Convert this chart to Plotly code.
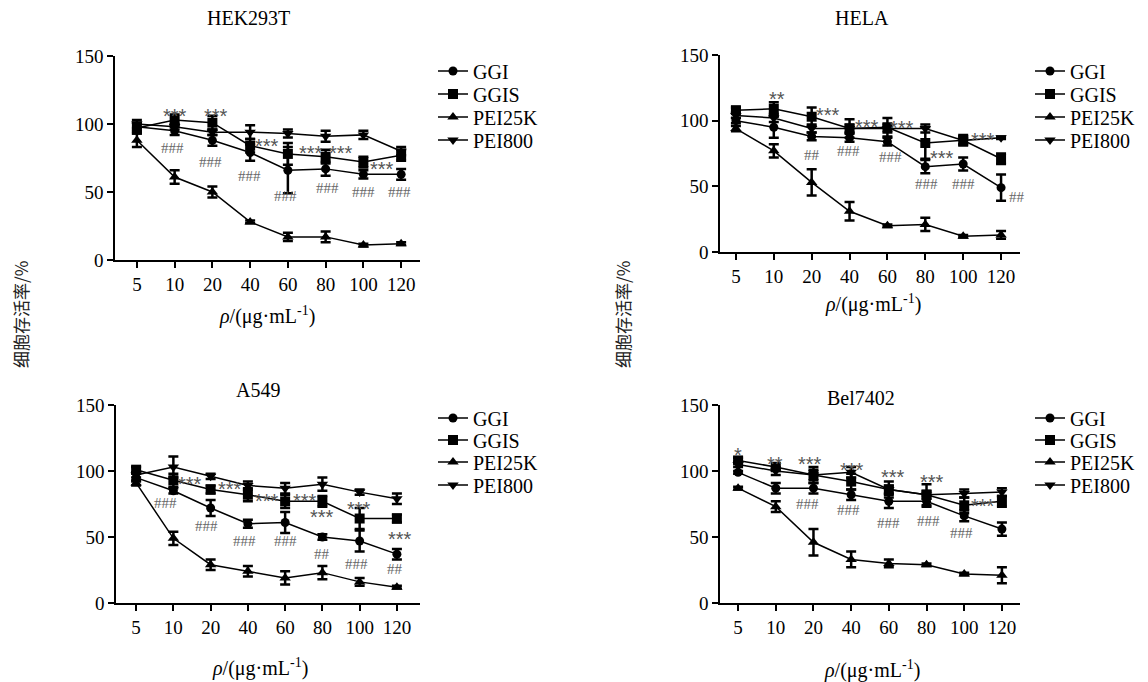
import plotly.graph_objects as go

doses = ["5", "10", "20", "40", "60", "80", "100", "120"]
series_names = ["GGI", "GGIS", "PEI25K", "PEI800"]
panel_titles = ["HEK293T", "HELA", "A549", "Bel7402"]

# ---- HEK293T ----
hek_ggi = [98, 95, 88, 79, 66, 67, 63, 63]
hek_ggis = [97, 103, 101, 84, 78, 76, 72, 77]
hek_pei25k = [88, 61, 50, 28, 17, 17, 11, 12]
hek_pei800 = [100, 98, 94, 94, 93, 91, 92, 80]
hek_ggi_err = [3, 3, 4, 6, 17, 5, 3, 4]
hek_ggis_err = [4, 4, 5, 5, 8, 5, 4, 4]
hek_pei25k_err = [5, 5, 4, 1, 3, 4, 1, 1]
hek_pei800_err = [3, 2, 2, 5, 3, 4, 3, 3]

# ---- HELA ----
hela_ggi = [100, 95, 88, 87, 84, 65, 67, 49]
hela_ggis = [108, 109, 103, 94, 95, 83, 85, 71]
hela_pei25k = [94, 77, 53, 31, 20, 21, 12, 13]
hela_pei800 = [104, 102, 94, 94, 94, 94, 85, 87]
hela_ggi_err = [2, 8, 3, 3, 3, 5, 5, 10]
hela_ggis_err = [2, 5, 7, 7, 7, 12, 4, 4]
hela_pei25k_err = [2, 5, 10, 7, 1, 5, 1, 3]
hela_pei800_err = [2, 3, 3, 3, 3, 3, 3, 1]

# ---- A549 ----
a549_ggi = [95, 85, 72, 60, 61, 50, 47, 37]
a549_ggis = [101, 93, 86, 82, 77, 77, 64, 64]
a549_pei25k = [91, 49, 29, 24, 19, 23, 16, 12]
a549_pei800 = [97, 103, 96, 89, 87, 90, 84, 79]
a549_ggi_err = [3, 2, 6, 3, 8, 2, 8, 4]
a549_ggis_err = [2, 5, 3, 5, 5, 4, 8, 3]
a549_pei25k_err = [2, 5, 4, 4, 5, 5, 3, 1]
a549_pei800_err = [2, 8, 2, 3, 4, 5, 2, 4]

# ---- Bel7402 ----
bel_ggi = [99, 87, 87, 82, 77, 77, 66, 56]
bel_ggis = [108, 103, 97, 92, 86, 82, 74, 77]
bel_pei25k = [87, 73, 46, 33, 30, 29, 22, 21]
bel_pei800 = [105, 100, 97, 99, 86, 82, 83, 84]
bel_ggi_err = [1, 4, 4, 4, 5, 4, 4, 5]
bel_ggis_err = [2, 3, 6, 6, 6, 8, 6, 4]
bel_pei25k_err = [1, 4, 10, 6, 3, 1, 1, 6]
bel_pei800_err = [2, 3, 4, 4, 3, 3, 3, 3]

# significance marks: (text, category position, y value)
hek_marks = [("***", 1.0, 110), ("***", 2.1, 110), ("***", 3.45, 88.5), ("***", 4.6, 83),
             ("***", 5.4, 83), ("***", 6.5, 71), ("***", 7.6, 80),
             ("###", 0.95, 82), ("###", 1.96, 72), ("###", 2.97, 62), ("###", 3.93, 47),
             ("###", 5.04, 52.6), ("###", 6.0, 50), ("###", 6.97, 50)]
hela_marks = [("**", 1.08, 121), ("***", 2.43, 109), ("***", 3.46, 100), ("***", 4.38, 99),
              ("***", 5.44, 76), ("***", 6.52, 90), ("***", 7.58, 71),
              ("##", 2.0, 74), ("###", 2.98, 77), ("###", 4.07, 72), ("###", 5.04, 52),
              ("###", 6.0, 52), ("##", 7.42, 42)]
a549_marks = [("***", 1.45, 95), ("***", 2.52, 91), ("***", 3.51, 82), ("***", 4.53, 82),
              ("***", 5.0, 70), ("***", 5.98, 75.6), ("***", 7.08, 53),
              ("###", 0.8, 76), ("###", 1.9, 58.5), ("###", 2.92, 46.6), ("###", 4.02, 46.6),
              ("##", 5.0, 37), ("###", 5.92, 29.7), ("##", 6.94, 26)]
bel_marks = [("*", 0.0, 117), ("**", 0.98, 110), ("***", 1.91, 110), ("***", 3.02, 105),
             ("***", 4.1, 100), ("***", 5.15, 96), ("***", 6.5, 78), ("***", 7.53, 75.6),
             ("###", 1.83, 75), ("###", 2.92, 70.6), ("###", 3.98, 60.5), ("###", 5.04, 62),
             ("###", 5.94, 53)]

W, H = 1148, 682
OFF = 8  # page body margin offset
SERIF = "Liberation Serif"
CJK = "Noto Sans CJK SC"


def PX(px):
    return (px - OFF) / W


def PY(py):
    return 1 - (py - OFF) / H


panels = [
    dict(title=panel_titles[0], vals=[hek_ggi, hek_ggis, hek_pei25k, hek_pei800],
         errs=[hek_ggi_err, hek_ggis_err, hek_pei25k_err, hek_pei800_err], marks=hek_marks,
         xpx=(115, 420), ypx=(260, 56), xr=(-0.58, 7.5), title_xy=(248, 18), xt_xy=(267, 315),
         leg_x=433, leg_rows=[71, 94, 117, 140]),
    dict(title=panel_titles[1], vals=[hela_ggi, hela_ggis, hela_pei25k, hela_pei800],
         errs=[hela_ggi_err, hela_ggis_err, hela_pei25k_err, hela_pei800_err], marks=hela_marks,
         xpx=(720, 1020), ypx=(252, 55), xr=(-0.42, 7.5), title_xy=(862, 18), xt_xy=(873, 303),
         leg_x=1030, leg_rows=[71, 94, 117, 140]),
    dict(title=panel_titles[2], vals=[a549_ggi, a549_ggis, a549_pei25k, a549_pei800],
         errs=[a549_ggi_err, a549_ggis_err, a549_pei25k_err, a549_pei800_err], marks=a549_marks,
         xpx=(116, 420), ypx=(603, 405), xr=(-0.54, 7.62), title_xy=(258, 390), xt_xy=(260, 667),
         leg_x=433, leg_rows=[418, 440, 462, 485]),
    dict(title=panel_titles[3], vals=[bel_ggi, bel_ggis, bel_pei25k, bel_pei800],
         errs=[bel_ggi_err, bel_ggis_err, bel_pei25k_err, bel_pei800_err], marks=bel_marks,
         xpx=(720, 1020), ypx=(603, 405), xr=(-0.48, 7.48), title_xy=(861, 398), xt_xy=(872, 669),
         leg_x=1030, leg_rows=[418, 440, 462, 485]),
]

symbols = ["circle", "square", "triangle-up", "triangle-down"]
msizes = [9, 10, 10, 10]
xpos = list(range(len(doses)))

fig = go.Figure()
layout = dict(width=W, height=H, margin=dict(l=0, r=0, t=0, b=0, autoexpand=False),
              paper_bgcolor="white", plot_bgcolor="white", showlegend=True)
annotations = []
leg_n = 0

for i, p in enumerate(panels):
    k = "" if i == 0 else str(i + 1)
    xa, ya = "x" + k, "y" + k
    for j, name in enumerate(series_names):
        leg_n += 1
        lg = "legend" if leg_n == 1 else "legend" + str(leg_n)
        fig.add_trace(go.Scatter(
            x=xpos, y=p["vals"][j], name=name, mode="lines+markers",
            xaxis=xa, yaxis=ya, legend=lg, cliponaxis=False,
            line=dict(color="black", width=1.5),
            marker=dict(symbol=symbols[j], size=msizes[j], color="black"),
            error_y=dict(type="data", array=p["errs"][j], visible=True,
                         color="black", thickness=2.5, width=5),
        ))
        layout[lg] = dict(x=PX(p["leg_x"]), y=PY(p["leg_rows"][j]), xanchor="left",
                          yanchor="middle", bgcolor="rgba(0,0,0,0)",
                          font=dict(family=SERIF, size=20, color="black"), itemwidth=30)
    axcommon = dict(showline=True, linecolor="black", linewidth=1.5, ticks="outside",
                    ticklen=6, tickwidth=1.5, tickcolor="black", showgrid=False,
                    zeroline=False, automargin=False,
                    tickfont=dict(family=SERIF, size=19, color="black"))
    layout["xaxis" + k] = dict(domain=[PX(p["xpx"][0]), PX(p["xpx"][1])], anchor=ya,
                               range=list(p["xr"]), tickvals=xpos, ticktext=doses, **axcommon)
    layout["yaxis" + k] = dict(domain=[PY(p["ypx"][0]), PY(p["ypx"][1])], anchor=xa,
                               range=[0, 150], tickvals=[0, 50, 100, 150], **axcommon)
    annotations.append(dict(text=p["title"], x=PX(p["title_xy"][0]), y=PY(p["title_xy"][1]),
                            xref="paper", yref="paper", showarrow=False,
                            xanchor="center", yanchor="middle",
                            font=dict(family=SERIF, size=20, color="black")))
    annotations.append(dict(text="<i>ρ</i>/(μg·mL<sup>-1</sup>)", x=PX(p["xt_xy"][0]),
                            y=PY(p["xt_xy"][1]), xref="paper", yref="paper",
                            xanchor="center", yanchor="middle",
                            showarrow=False, font=dict(family=SERIF, size=20, color="black")))
    for (t, mx, my) in p["marks"]:
        if t.startswith("*"):
            f = dict(family="Liberation Sans", size=20, color="#555555")
            yshift = -6
        else:
            f = dict(family=SERIF, size=15, color="#666666")
            yshift = 0
        annotations.append(dict(text=t, x=mx, y=my, xref=xa, yref=ya, showarrow=False,
                                xanchor="center", yanchor="middle",
                                font=f, yshift=yshift))

for (lx, ly) in [(20, 315), (622, 315)]:
    annotations.append(dict(text="细胞存活率/%", x=PX(lx), y=PY(ly), xref="paper",
                            yref="paper", showarrow=False, textangle=-90,
                            xanchor="center", yanchor="middle",
                            font=dict(family=CJK, size=17, color="#222222")))

layout["annotations"] = annotations
fig.update_layout(**layout)
fig.write_html("out.html")
